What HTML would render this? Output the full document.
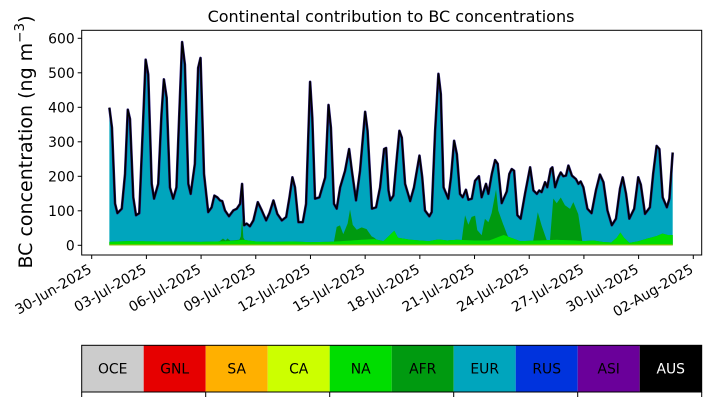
<!DOCTYPE html>
<html><head><meta charset="utf-8"><style>
html,body{margin:0;padding:0;background:#fff;}
svg{display:block;font-family:"DejaVu Sans","Liberation Sans",sans-serif;}
</style></head><body>
<svg id="chart" width="710" height="402" viewBox="0 0 710 402" xmlns="http://www.w3.org/2000/svg">
<text x="391" y="22" font-size="16" text-anchor="middle" fill="#000">Continental contribution to BC concentrations</text>
<text transform="translate(32,142) rotate(-90)" font-size="19" text-anchor="middle" fill="#000">BC concentration (ng m<tspan dy="-8" font-size="13.5">−3</tspan><tspan dy="8">)</tspan></text>
<g id="plot"></g>
<g id="axes"></g>
<g id="legend"></g>
</svg>
<script>
// Total BC (top of stack), days since 30-Jun-2025
const totalDays = [0.97,1.11,1.28,1.41,1.65,1.83,1.98,2.10,2.28,2.43,2.61,2.80,2.96,3.10,3.29,3.42,3.65,3.83,3.96,4.11,4.29,4.47,4.65,4.84,4.96,5.11,5.30,5.43,5.66,5.84,5.97,6.16,6.39,6.58,6.73,6.89,7.04,7.16,7.31,7.53,7.77,7.96,8.14,8.25,8.36,8.50,8.68,8.87,9.11,9.33,9.57,9.75,9.97,10.18,10.43,10.67,10.85,11.01,11.15,11.34,11.58,11.76,11.98,12.10,12.25,12.49,12.81,12.99,13.12,13.29,13.44,13.63,13.90,14.12,14.27,14.50,14.72,15.00,15.13,15.37,15.60,15.82,16.04,16.15,16.28,16.38,16.55,16.74,16.88,17.01,17.19,17.47,17.68,17.98,18.13,18.28,18.52,18.65,18.84,19.02,19.15,19.30,19.56,19.71,19.88,20.03,20.20,20.35,20.53,20.66,20.85,21.03,21.24,21.39,21.63,21.76,21.95,22.13,22.27,22.49,22.77,22.91,23.04,23.17,23.35,23.53,23.77,24.05,24.23,24.42,24.55,24.68,24.87,24.99,25.18,25.27,25.42,25.60,25.73,25.87,26.02,26.15,26.34,26.56,26.70,26.82,26.97,27.19,27.42,27.66,27.88,28.07,28.29,28.53,28.76,28.98,29.13,29.31,29.49,29.76,29.98,30.12,30.35,30.62,30.80,30.99,31.14,31.32,31.55,31.69,31.87];
const totalValues = [399,341,121,93,106,207,393,366,139,87,93,332,538,495,178,135,178,380,481,428,168,135,168,428,589,524,178,149,236,514,543,207,96,110,144,139,130,128,101,84,101,106,120,178,58,63,55,72,125,101,72,93,130,91,72,82,139,197,168,67,67,120,474,370,135,139,197,407,341,120,106,168,216,279,216,130,216,387,332,106,110,168,279,282,159,130,144,255,332,312,178,128,168,260,197,101,84,96,332,497,438,168,135,197,303,264,149,139,161,132,135,187,200,139,178,149,207,247,236,122,156,207,221,216,87,77,149,226,159,149,159,154,183,168,221,226,168,197,211,200,202,231,202,192,178,185,168,106,93,159,205,183,101,58,77,164,197,149,77,106,197,176,91,110,207,288,279,139,110,135,269];
// North America contribution
const naDays = [0.97,2,4,6,7.5,8.3,9,10,11,12,13,14,14.8,15.5,16,16.4,16.6,16.8,17.5,18.5,19,19.5,20,21,21.8,22.2,22.6,23,23.5,24.5,25.5,26.5,27,27.5,28,28.5,28.8,29,29.2,29.5,30,30.5,31,31.3,31.6,31.87];
const naValues = [8,10,9,8,10,14,9,8,9,7,8,11,14,16,10,30,40,20,14,10,15,12,14,12,12,20,28,20,10,12,14,12,10,12,8,6,20,35,20,5,10,18,25,32,28,28];
// Africa contribution
const afrDays = [0.97,7.0,7.2,7.35,7.45,7.6,8.1,8.18,8.25,8.32,8.4,13.29,13.44,13.62,13.80,14.04,14.17,14.32,14.54,14.81,15.08,15.36,15.63,20.30,20.48,20.66,20.84,21.03,21.15,21.39,21.57,21.76,21.94,22.18,22.30,22.58,22.76,22.84,24.22,24.47,24.68,24.96,25.14,25.32,25.51,25.73,25.96,26.24,26.42,26.69,26.91,31.87];
const afrValues = [0,0,8,2,8,1,1,10,62,6,0,0,42,46,20,50,90,45,30,36,30,8,0,0,72,45,68,72,30,15,63,53,77,140,77,30,8,0,0,82,43,0,0,120,106,123,101,91,111,77,0,0];
// South Asia (thin base band)
const saDays = [0.97,31.87];
const saValues = [2,2];
const yTicks = [0,100,200,300,400,500,600];
const xTickDays = [0,3,6,9,12,15,18,21,24,27,30,33];
const xTickLabels = ["30-Jun-2025","03-Jul-2025","06-Jul-2025","09-Jul-2025","12-Jul-2025","15-Jul-2025","18-Jul-2025","21-Jul-2025","24-Jul-2025","27-Jul-2025","30-Jul-2025","02-Aug-2025"];
const legendNames = ["OCE","GNL","SA","CA","NA","AFR","EUR","RUS","ASI","AUS"];
const legendColors = ["#cccccc","#e60000","#ffb000","#ccff00","#00dd00","#009a10","#00a5bd","#0033dd","#6a009a","#000000"];

const NS="http://www.w3.org/2000/svg";
const X0=81.7,X1=701.7,Y0=30.3,Y1=255;
function xs(d){return 91.7+d*18.23;}
function ys(v){return 245.3-v*0.345;}
function el(tag,attrs,parent){const e=document.createElementNS(NS,tag);for(const k in attrs)e.setAttribute(k,attrs[k]);parent.appendChild(e);return e;}
function interp(ds,vs,t){if(t<=ds[0])return vs[0];for(let i=1;i<ds.length;i++){if(t<=ds[i]){const f=(t-ds[i-1])/(ds[i]-ds[i-1]||1);return vs[i-1]+f*(vs[i]-vs[i-1]);}}return vs[vs.length-1];}
const tset=new Set([...totalDays,...naDays,...afrDays,...saDays]);
const ts=[...tset].sort((a,b)=>a-b);
const plot=document.getElementById('plot');
function area(topFn,color,name){
  let d='M'+xs(ts[0]).toFixed(2)+','+ys(0).toFixed(2);
  ts.forEach(t=>{d+='L'+xs(t).toFixed(2)+','+ys(topFn(t)).toFixed(2);});
  d+='L'+xs(ts[ts.length-1]).toFixed(2)+','+ys(0).toFixed(2)+'Z';
  const p=el('path',{d:d,fill:color,stroke:'none'},plot);
  
  
}
const sa=t=>interp(saDays,saValues,t);
const na=t=>sa(t)+interp(naDays,naValues,t);
const afr=t=>na(t)+interp(afrDays,afrValues,t);
area(t=>interp(totalDays,totalValues,t),'#00a5bd','eur-area');
area(afr,'#009a10','afr-area');
area(na,'#00dd00','na-area');
area(sa,'#ffb000','sa-area');
let ld='';
totalDays.forEach((t,i)=>{ld+=(i?'L':'M')+xs(t).toFixed(2)+','+ys(totalValues[i]).toFixed(2);});
const halo=el('path',{d:ld,fill:'none',stroke:'#2a1a7a','stroke-width':2.6,'stroke-linejoin':'round'},plot);


const tl=el('path',{d:ld,fill:'none',stroke:'#000','stroke-width':1.6,'stroke-linejoin':'round'},plot);



const axes=document.getElementById('axes');
const frame=el('rect',{x:X0,y:Y0,width:X1-X0,height:Y1-Y0,fill:'none',stroke:'#000','stroke-width':1},axes);


yTicks.forEach(v=>{
  const y=ys(v);
  el('line',{x1:X0-4,x2:X0,y1:y,y2:y,stroke:'#000','stroke-width':1},axes);
  const t=el('text',{x:X0-7,y:y+5,'font-size':13.9,'text-anchor':'end',fill:'#000'},axes);
  t.textContent=v;
  
  
});
xTickDays.forEach((d,i)=>{
  const x=xs(d);
  el('line',{x1:x,x2:x,y1:Y1,y2:Y1+4,stroke:'#000','stroke-width':1},axes);
  const t=el('text',{transform:'translate('+(x+1)+','+(Y1+17)+') rotate(-30)','font-size':13.9,'text-anchor':'end',fill:'#000'},axes);
  t.textContent=xTickLabels[i];
  
  
});

const lg=document.getElementById('legend');
const LX=81.7,LW=62,LY=345.3,LH=46.7;
legendNames.forEach((n,i)=>{
  const r=el('rect',{x:LX+i*LW,y:LY,width:LW,height:LH,fill:legendColors[i]},lg);
  
  
  const t=el('text',{x:LX+i*LW+LW/2,y:LY+LH/2+5,'font-size':13.9,'text-anchor':'middle',fill:n==='AUS'?'#fff':'#000'},lg);
  t.textContent=n;
  
  
});
el('rect',{x:LX,y:LY,width:LW*10,height:LH,fill:'none',stroke:'#000','stroke-width':1},lg);
for(let i=0;i<=5;i++){const x=LX+i*LW*2;el('line',{x1:x,x2:x,y1:LY+LH,y2:LY+LH+5,stroke:'#000','stroke-width':1},lg);}
</script>
</body></html>
